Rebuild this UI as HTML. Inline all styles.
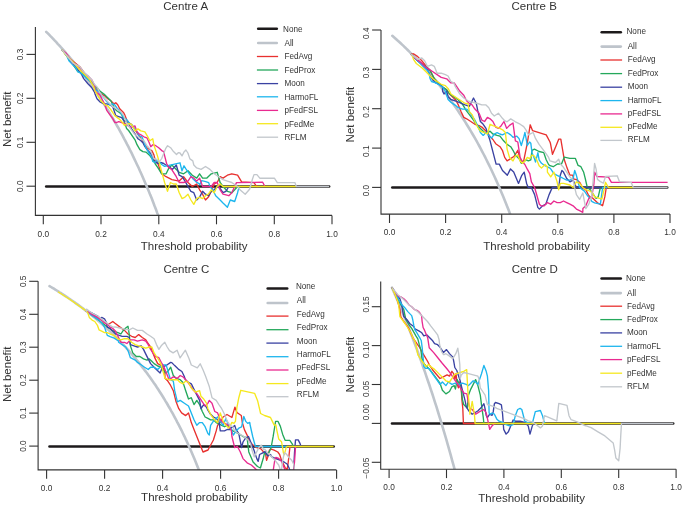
<!DOCTYPE html>
<html><head><meta charset="utf-8"><style>
html,body{margin:0;padding:0;background:#fff;width:685px;height:506px;overflow:hidden}
svg{display:block;will-change:transform}
text{font-family:"Liberation Sans",sans-serif;fill:#333333}
.tk{font-size:8.3px}
.lb{font-size:11.5px}
.lg{font-size:8.15px}
</style></head><body>
<svg width="685" height="506" viewBox="0 0 685 506">
<rect width="685" height="506" fill="#fff"/>
<clipPath id="cA"><rect x="35.4" y="24.1" width="300.6" height="191.3"/></clipPath>
<line x1="46.2" y1="186.5" x2="329.1" y2="186.5" stroke="#1d1a1b" stroke-width="2.6" stroke-linecap="round"/>
<g clip-path="url(#cA)"><polyline points="46.2,31.8 47.6,33.2 49.1,34.7 50.5,36.2 52,37.7 53.4,39.2 54.8,40.7 56.3,42.2 57.7,43.8 59.2,45.3 60.6,46.9 62.1,48.5 63.5,50.2 65,51.8 66.4,53.5 67.8,55.1 69.3,56.8 70.7,58.5 72.2,60.3 73.6,62 75.1,63.8 76.5,65.6 77.9,67.4 79.4,69.2 80.8,71.1 82.3,72.9 83.7,74.8 85.2,76.8 86.6,78.7 88,80.7 89.5,82.7 90.9,84.7 92.4,86.7 93.8,88.8 95.3,90.8 96.7,92.9 98.2,95.1 99.6,97.2 101,99.4 102.5,101.7 103.9,103.9 105.4,106.2 106.8,108.5 108.3,110.8 109.7,113.2 111.1,115.6 112.6,118 114,120.5 115.5,122.9 116.9,125.5 118.4,128 119.8,130.6 121.2,133.2 122.7,135.9 124.1,138.6 125.6,141.3 127,144.1 128.5,146.9 129.9,149.8 131.4,152.7 132.8,155.6 134.2,158.6 135.7,161.7 137.1,164.7 138.6,167.8 140,171 141.5,174.2 142.9,177.5 144.3,180.8 145.8,184.2 147.2,187.6 148.7,191 150.1,194.6 151.6,198.1 153,201.8 154.4,205.5 155.9,209.2 157.3,213.1 158.8,217 160.2,220.9" fill="none" stroke="#bec4cb" stroke-width="2.6" stroke-linecap="round"/>
<polyline points="62,49.7 69.9,58.8 79.8,66.7 82.7,70.7 87.7,77.6 91.6,82.5 95.6,88.5 100.9,93.9 104.9,95.9 107.8,98.8 110.8,100.8 113.8,103.8 115.8,102.8 117.7,104.8 119.7,108.7 121.7,110.7 123.7,112.7 124.6,114.6 126.6,119.6 128.6,122.5 131.6,124.5 137,132.8 139.9,136.8 141.9,139.8 144.9,144.7 146.9,147.7 149.8,149.6 151.8,150.6 153.8,154.6 154.8,158.5 156.7,161.5 158.7,165.5 159.7,169.4 161.7,173.8 166.1,176.7 169,178.1 171.9,179.6 179.2,181.1 183.6,176.7 188,182.5 192.3,186.5 196.7,184 199.6,189.8 202.6,194.2 205.5,200 208.4,197.1 211.3,191.3 214.2,184 217.2,182.5 220.1,176.7 223,178.1 227.4,175.2 231.8,173.8 237.6,175.2 241.6,181.9 254,182.6 256.6,186.5 258.4,186.5" fill="none" stroke="#e8312f" stroke-width="1.35" stroke-linejoin="round"/>
<polyline points="62,49.7 75.8,68.7 77.8,71.7 80.8,72.7 83.7,74.6 88.7,79.6 96.6,87.5 100.9,91.9 104.9,94.9 108.8,98.8 110.8,100.8 112.8,104.8 114.8,108.7 116.7,110.7 119.7,112.7 121.7,114.6 124.6,122.5 126.6,128.5 128.6,130.5 135,139.8 137,144.7 139.9,149.6 142.9,151.6 145.9,152.1 149.8,155.6 152.8,159.5 155.3,164 157.7,167.4 161.7,173.8 166.1,173.8 169,167.9 171.9,165 174.8,167.9 179.2,172.3 183.6,173.8 188,170.8 192.3,175.2 196.7,178.1 199.6,173.8 202.6,178.1 206.9,178.1 211.3,173.8 217.2,172.3 220.1,182.5 223,186.5 227.4,191.3 231.8,192.7 234.7,189.8 237.6,186.5 240.5,186.5" fill="none" stroke="#24a85b" stroke-width="1.35" stroke-linejoin="round"/>
<polyline points="62,49.7 81.7,74.6 83.7,78.6 87.7,83.5 91.6,87.5 94.6,92.4 95,93.9 97,98.8 99.9,101.8 103.9,103.8 106.9,103.8 109.8,104.8 112.8,106.7 114.8,112.7 115.8,115.6 118.7,116.6 121.7,117.6 123.7,120.6 126.6,121.6 128.6,123.5 130.6,127.5 135,133.8 138,138.8 140.9,140.8 142.9,142.7 144.9,146.7 147.8,150.6 150.8,153.6 153.8,159.5 155.8,162.5 158.7,163.5 160.7,162.5 163.7,163.5 166.6,165.5 169.6,167.4 172.5,169.4 176.3,165 179.2,175.2 182.1,176.7 185,181.1 188,186.5 190.9,191.3 193.8,192.7 196.7,200 199.6,197.1 202.6,191.3 205.5,194.2 208.4,195.7 211.3,191.3 214.2,189.8 217.2,186.5 220.1,188.4 223,192.7 225.9,191.3 228.8,186.5 231,186.5" fill="none" stroke="#3a42a2" stroke-width="1.35" stroke-linejoin="round"/>
<polyline points="62,49.7 66.9,55.9 68.9,60.8 72.8,64.8 75.8,67.7 77.8,71.7 81.7,73.7 85.7,77.6 89.6,80.6 92.6,83.5 96,89.9 99,91.9 100.9,94.9 103.9,97.8 106.9,101.8 109.8,104.8 112.8,103.8 114.8,104.8 116.7,107.7 118.7,109.7 120.7,112.7 123.7,117.6 126.6,119.6 129.6,123.5 131.6,124.5 137,131.9 139,135.8 141.9,136.8 143.9,141.7 145.9,147.7 148.8,152.6 151.8,157.5 152.8,161.5 154.8,162.5 156.7,160.5 159.7,162.5 161.7,164.5 164.6,166.4 180,162.8 182,170.8 184,165.8 185.9,168.8 189.9,174.7 192.8,178.7 195.8,181.6 198.8,183.6 199.8,184.6 201.7,180.6 205.7,181.6 208.7,182.6 209.9,186.5 212.8,189.8 215.7,195.7 220.1,200 223,203 227.4,207.3 230.3,200 234.7,201.5 237.6,192.7 239.1,186.5 239.8,186.5" fill="none" stroke="#1db6ee" stroke-width="1.35" stroke-linejoin="round"/>
<polyline points="62,49.7 65.9,52.9 72.8,63 79.8,67.7 83.7,72.7 88.7,76.6 91.6,79.6 94.6,85.5 95,90.9 97,92.9 99.9,94.9 102.9,100.8 104.9,104.8 106.9,110.7 109.8,114.6 112.8,118.6 114.8,122.5 116.7,122.5 118.7,121.6 121.7,122.5 124.6,123.5 127.6,125.5 130.6,127.5 135,125.9 137,131.9 139,133.8 140.9,134.8 143.9,136.8 146.9,137.8 148.8,141.7 150.8,146.7 152.8,144.7 155.8,145.7 158.7,147.7 161.7,150.6 163.7,151.6 164.6,155.6 166.6,163.5 168.6,167.4 171.6,169.4 176.3,176.7 179.2,182.5 183.6,182.5 188,181.1 190.9,176.7 193.8,178.1 196.7,181.1 199.6,178.1 202.6,186.5 208.4,186.5 211.3,186.5 214.2,182.5 217.2,182.5 220.1,189.8 223,194.2 228.8,195.7 231.8,192.7 234.7,186.5 236.5,182.6 262.7,182.2 264.9,186.5" fill="none" stroke="#e92a90" stroke-width="1.35" stroke-linejoin="round"/>
<polyline points="62,49.7 64.9,53.9 72.8,61.8 79.8,69.7 84.7,74.6 89.6,79.6 93.6,86.5 95,90.9 98,95.9 100.9,100.8 104.9,104.8 107.8,105.8 110.8,109.7 112.8,112.7 114.8,115.6 118.7,118.6 121.7,121.6 124.6,125.5 127.6,123.5 131.6,124.5 135,130.9 138,128.9 140.9,130.9 144.9,131.9 147.8,136.8 149.8,140.8 152.8,138.8 153.8,144.7 155.8,150.6 157.7,156.6 164.6,182.5 167.5,191.3 170.4,182.5 173.4,184 176.3,184 179.2,192.7 182.1,198.6 185,197.1 188,194.2 190.9,200 193.8,204.4 196.7,198.6 199.6,197.1 202.6,198.6 205.5,195.7 208.4,194.2 211.3,189.8 214.2,192.7 217.2,186.5 220.1,184 223,186.5 235,186.5 296.3,186.5" fill="none" stroke="#f5e81f" stroke-width="1.35" stroke-linejoin="round"/>
<polyline points="62,49.7 72.8,62.8 79.8,66.7 82.7,70.7 85.7,73.7 91.6,79.6 94.6,84.5 97.5,87.5 99.9,92.9 103.9,97.8 107.8,101.8 112.8,106.7 117.7,109.7 120.7,111.7 123.7,115.6 125.6,120.6 127.6,124.5 135,134.8 138,136.8 140.9,138.8 143.9,140.8 146.9,145.7 149.8,148.7 151.8,153.6 153.8,158.5 156.7,159.5 159.7,161.5 161.7,158.5 163.7,153.6 165.6,148.7 167.6,145.7 170.6,147.7 173.5,151.6 176.5,154.6 178.5,152.6 180,153 182,155.9 184,152 185.9,150 187.9,153 189.9,158.9 192.8,160.9 193.8,165 196.7,167.9 201.1,169.4 205.5,166.5 209.9,169.4 214.2,173.8 218.6,176.7 223,179.6 227.4,181.1 231.8,182.5 237.6,186.5 239.4,189.2 245.2,194.3 249.6,189.2 252.5,179 254,174.6 256.9,174.6 259.8,178.2 274.4,178.2 277.3,182.6 294.9,182.6 296.3,186.5 329.2,186.5" fill="none" stroke="#c2c7cc" stroke-width="1.35" stroke-linejoin="round"/>
</g>
<path d="M35.4,27.1V215.4H332.0" fill="none" stroke="#333333" stroke-width="1.1"/>
<line x1="43.3" y1="215.4" x2="43.3" y2="224.3" stroke="#333333" stroke-width="1.1"/>
<text x="43.3" y="236.6" class="tk" text-anchor="middle">0.0</text>
<line x1="101" y1="215.4" x2="101" y2="224.3" stroke="#333333" stroke-width="1.1"/>
<text x="101" y="236.6" class="tk" text-anchor="middle">0.2</text>
<line x1="158.8" y1="215.4" x2="158.8" y2="224.3" stroke="#333333" stroke-width="1.1"/>
<text x="158.8" y="236.6" class="tk" text-anchor="middle">0.4</text>
<line x1="216.5" y1="215.4" x2="216.5" y2="224.3" stroke="#333333" stroke-width="1.1"/>
<text x="216.5" y="236.6" class="tk" text-anchor="middle">0.6</text>
<line x1="274.3" y1="215.4" x2="274.3" y2="224.3" stroke="#333333" stroke-width="1.1"/>
<text x="274.3" y="236.6" class="tk" text-anchor="middle">0.8</text>
<line x1="332" y1="215.4" x2="332" y2="224.3" stroke="#333333" stroke-width="1.1"/>
<text x="332" y="236.6" class="tk" text-anchor="middle">1.0</text>
<line x1="26.5" y1="186.2" x2="35.4" y2="186.2" stroke="#333333" stroke-width="1.1"/>
<text transform="translate(23.2,186.2) rotate(-90)" class="tk" text-anchor="middle">0.0</text>
<line x1="26.5" y1="142.3" x2="35.4" y2="142.3" stroke="#333333" stroke-width="1.1"/>
<text transform="translate(23.2,142.3) rotate(-90)" class="tk" text-anchor="middle">0.1</text>
<line x1="26.5" y1="98.3" x2="35.4" y2="98.3" stroke="#333333" stroke-width="1.1"/>
<text transform="translate(23.2,98.3) rotate(-90)" class="tk" text-anchor="middle">0.2</text>
<line x1="26.5" y1="54.4" x2="35.4" y2="54.4" stroke="#333333" stroke-width="1.1"/>
<text transform="translate(23.2,54.4) rotate(-90)" class="tk" text-anchor="middle">0.3</text>
<text x="185.7" y="10.0" class="lb" text-anchor="middle">Centre A</text>
<text x="194.2" y="249.7" class="lb" text-anchor="middle">Threshold probability</text>
<text transform="translate(10.8,119.3) rotate(-90)" class="lb" text-anchor="middle">Net benefit</text>
<line x1="258.2" y1="28.8" x2="276.8" y2="28.8" stroke="#1d1a1b" stroke-width="2.6" stroke-linecap="round"/>
<text x="283.1" y="31.6" class="lg">None</text>
<line x1="258.2" y1="43.0" x2="276.8" y2="43.0" stroke="#bec4cb" stroke-width="2.6" stroke-linecap="round"/>
<text x="284.5" y="45.8" class="lg">All</text>
<line x1="256.9" y1="56.5" x2="278.1" y2="56.5" stroke="#e8312f" stroke-width="1.3" stroke-linecap="butt"/>
<text x="284.5" y="59.2" class="lg">FedAvg</text>
<line x1="256.9" y1="70.0" x2="278.1" y2="70.0" stroke="#24a85b" stroke-width="1.3" stroke-linecap="butt"/>
<text x="284.5" y="72.8" class="lg">FedProx</text>
<line x1="256.9" y1="83.6" x2="278.1" y2="83.6" stroke="#3a42a2" stroke-width="1.3" stroke-linecap="butt"/>
<text x="284.5" y="86.3" class="lg">Moon</text>
<line x1="256.9" y1="96.8" x2="278.1" y2="96.8" stroke="#1db6ee" stroke-width="1.3" stroke-linecap="butt"/>
<text x="284.5" y="99.5" class="lg">HarmoFL</text>
<line x1="256.9" y1="110.4" x2="278.1" y2="110.4" stroke="#e92a90" stroke-width="1.3" stroke-linecap="butt"/>
<text x="284.5" y="113.2" class="lg">pFedFSL</text>
<line x1="256.9" y1="123.7" x2="278.1" y2="123.7" stroke="#f5e81f" stroke-width="1.3" stroke-linecap="butt"/>
<text x="284.5" y="126.5" class="lg">pFedMe</text>
<line x1="256.9" y1="137.2" x2="278.1" y2="137.2" stroke="#c2c7cc" stroke-width="1.3" stroke-linecap="butt"/>
<text x="284.5" y="139.9" class="lg">RFLM</text>
<clipPath id="cB"><rect x="381.0" y="27.0" width="293.0" height="187.1"/></clipPath>
<line x1="392.3" y1="187.5" x2="667.2" y2="187.5" stroke="#1d1a1b" stroke-width="2.6" stroke-linecap="round"/>
<g clip-path="url(#cB)"><polyline points="392.3,35.8 393.7,37 395.1,38.2 396.5,39.5 397.9,40.8 399.3,42 400.7,43.3 402.1,44.6 403.5,45.9 404.9,47.3 406.3,48.6 407.7,50 409.1,51.4 410.5,52.8 411.9,54.2 413.3,55.6 414.7,57 416.1,58.5 417.6,59.9 419,61.4 420.4,62.9 421.8,64.5 423.2,66 424.6,67.6 426,69.1 427.4,70.7 428.8,72.3 430.2,74 431.6,75.6 433,77.3 434.4,79 435.8,80.7 437.2,82.4 438.6,84.1 440,85.9 441.4,87.7 442.8,89.5 444.2,91.3 445.6,93.2 447,95.1 448.4,97 449.8,98.9 451.2,100.9 452.6,102.9 454,104.9 455.4,106.9 456.8,109 458.2,111 459.6,113.2 461,115.3 462.4,117.5 463.8,119.7 465.2,121.9 466.6,124.2 468,126.5 469.4,128.8 470.8,131.1 472.2,133.5 473.7,136 475.1,138.4 476.5,140.9 477.9,143.5 479.3,146 480.7,148.6 482.1,151.3 483.5,154 484.9,156.7 486.3,159.5 487.7,162.3 489.1,165.1 490.5,168 491.9,171 493.3,174 494.7,177 496.1,180.1 497.5,183.2 498.9,186.4 500.3,189.7 501.7,193 503.1,196.3 504.5,199.7 505.9,203.2 507.3,206.7 508.7,210.3 510.1,214 511.5,217.7 512.9,221.5" fill="none" stroke="#bec4cb" stroke-width="2.6" stroke-linecap="round"/>
<polyline points="411,54.2 413.5,53.8 417.7,56.6 421.8,60.8 424.6,64.2 427.4,67.7 430.1,70.4 431.5,73.2 434.3,78.8 438.4,82.9 442.6,87.1 446.7,89.8 449.5,94 452.3,96.7 455.1,99.5 455.5,99.4 458.3,104.9 461.1,111.8 463.8,117.4 466.6,118.8 470.8,121.5 474.9,124.3 479.1,125.7 481.8,127.1 484.6,129.8 487.4,132.6 490.1,136.7 492.9,139.5 495.7,143.7 500,146.7 502.4,150.3 504.7,157.4 507.1,160.9 510.7,158.6 514.2,156.2 517.8,150.3 520.7,162.1 523.7,160.9 527.3,143.2 530.2,124.8 532.6,130.7 546.2,134.9 550,142 550.4,143.2 552.5,154.3 556,146 558.8,139.1 560.8,139.1 562.9,151.5 564.3,159.8 567.1,168.1 569.8,175.1 572.6,175.1 574,179.2 576.5,179.5 580,182.8 583,188.3 586,190 588.5,195.3 588.8,195.5 590.2,196.9 593.1,198.4 597.5,202.8 602.6,205.7 604.8,196.9 606.3,187.5 607.7,187.5 610.7,187.5" fill="none" stroke="#e8312f" stroke-width="1.35" stroke-linejoin="round"/>
<polyline points="411,54.2 417.7,60.8 423.2,64.9 427.4,67.7 430.1,70.4 431.5,73.2 434.3,78.8 438.4,82.9 442.6,87.1 446.7,89.8 449.5,94 453.7,96.7 457.8,99.5 462,103.7 464.7,107.8 465.2,109.1 469.4,114.6 473.5,120.1 476.3,124.3 480.4,128.4 484.6,132.6 487.4,132.6 490.1,131.2 492.9,134 497.1,135.4 500,136.1 503.6,140.8 507.1,144.4 510.7,146.7 513,150.3 515.4,155 517.8,157.4 520.1,159.8 521.3,163.3 523.7,162.1 526.1,159.8 528.4,160.9 530.8,159.8 532,150.3 534.4,149.1 539.1,151.5 543.8,152.7 546.2,159.8 548.6,164.5 550,165.7 553.2,166.7 557.4,164 561.5,164 564.3,157.1 569.8,158.4 575.4,158.4 578.1,165.4 580.9,166.7 583.7,172.3 585.1,177.8 587.3,187.5 590.2,189.6 593.1,194 596.1,198.4 598.2,196.9 600.4,187.5 601.9,187.5" fill="none" stroke="#24a85b" stroke-width="1.35" stroke-linejoin="round"/>
<polyline points="411,54.2 417.7,60.8 423.2,64.9 427.4,69.1 430.1,76 432.9,80.1 435.7,82.9 439.8,84.3 442.6,87.1 442.6,91.2 444,94 446.7,91.2 448.1,96.7 450.9,99.5 455.1,100.9 459.2,102.3 462,103.7 465.2,104.9 469.4,106.3 470.8,103.5 473.5,98 476.3,103.5 477.7,110.4 480.4,121.5 483.2,124.3 486,128.4 487.4,132.6 488.8,136.7 490.1,140.9 491.5,146.4 496.1,164.1 499.3,164.1 502.5,170.5 507.3,175.3 510.5,168.9 513.7,172.1 518.5,183.4 521.8,175.3 524.2,172.1 526.6,183.4 528.2,187.5 531.4,187.5 534.6,194.6 537.8,207.4 539.4,209.1 542.6,205.8 545.8,204.2 549.1,194.6 552.3,187.5 555.5,187.5 558.7,187.5 560.3,175.3 561.9,170.5 563.5,172.1 566.7,178.5 569.9,181.8 573.1,180.1 576.4,187.5 584.4,187.5 601.9,187.5" fill="none" stroke="#3a42a2" stroke-width="1.35" stroke-linejoin="round"/>
<polyline points="411,54.2 417.7,60.8 423.2,66.3 428.8,71.8 430.1,78.8 431.5,81.5 435.7,82.9 438.4,84.3 442.6,87.1 445.4,91.2 446.7,95.4 448.1,99.5 450.9,102.3 455.1,105.1 458.3,107.7 462.5,109.1 466.6,109.1 469.4,111.8 472.1,116 474.9,120.1 477.7,125.7 480.4,132.6 483.2,135.4 486,132.6 488.8,135.4 491.5,138.1 494.3,134 497.1,132.6 499.8,134 502.4,134.9 507.1,132.5 510.7,134.9 513,137.3 516.6,136.1 519,138.4 521.3,145.5 523.7,137.3 524.9,132.5 526.1,138.4 527.3,145.5 529.6,142 530.8,143.2 532,152.7 534.4,158.6 535.5,162.1 536.7,157.4 537.9,152.7 539.1,159.8 541.5,163.3 545,165.7 547.4,166.9 550,168.1 550.7,168.9 553.9,173.7 557.1,175.3 560.3,176.9 563.5,178.5 566.7,180.1 569.9,180.1 573.1,178.5 574.7,170.5 576.4,175.3 579.6,187.5 584.4,191.1 587.3,195.5 590.2,198.4 591.7,201.3 594.6,202.8 600.4,204.2 602.6,187.5 603.4,187.5 607.7,187.5" fill="none" stroke="#1db6ee" stroke-width="1.35" stroke-linejoin="round"/>
<polyline points="411,54.2 414.9,58 420.4,62.1 424.6,66.3 428.8,69.1 432.9,71.8 437.1,74.6 441.2,77.4 446.7,78.8 450.9,82.9 451.4,82.8 454.2,82.8 456.9,86.9 459.7,91.1 463.8,95.2 466.6,100.8 469.4,103.5 472.1,104.9 474.9,109.1 479.1,113.2 481.8,120.1 484.6,121.5 487.4,117.4 490.1,118.8 492.9,121.5 495.7,127.1 498.4,128.4 501.2,125.7 504,121.5 506.7,128.4 509.5,125.4 513,123 515.4,140.8 517.8,142 520.1,157.4 522.5,162.1 524.9,164.5 527.3,169.2 529.8,173.7 531.4,181.8 534.6,187.5 536.2,193 539.4,204.2 541,205.8 544.2,205.8 547.4,202.6 550.7,204.2 553.9,201 557.1,202.6 560.3,202.6 563.5,201 566.7,202.6 569.9,204.2 573.1,205.8 576.4,209.1 579.6,210.7 582.8,212.3 582.9,208.6 585.8,205.7 588.8,198.4 591.7,196.9 593.9,183.8 594.6,172.1 596.8,176.5 608.5,177.2 611.4,182.3 667.6,182.3" fill="none" stroke="#e92a90" stroke-width="1.35" stroke-linejoin="round"/>
<polyline points="411,54.2 412.1,55.2 413.5,59.4 416.3,63.5 421.8,67.7 426,71.8 430.1,76 432.9,78.8 437.1,81.5 441.2,84.3 445.4,85.7 448.1,88.4 450.9,94 452.8,95.2 456.9,98 461.1,100.8 465.2,103.5 468,103.5 469.4,111.8 472.1,114.6 474.9,121.5 477.7,127.1 480.4,131.2 484.6,132.6 487.4,134 490.1,124.3 492.9,125.7 497.1,127.1 499.8,128.4 502.6,129.8 505.4,132.6 505.9,137.3 507.1,149.1 509.5,157.4 513,160.9 515.4,156.2 517.8,155 520.1,160.9 522.5,163.3 524.9,160.9 527.3,157.4 529.6,158.6 532,155 534.4,156.2 536.7,159.8 539.1,165.7 541.5,168.1 545,164.5 547.4,166.9 547.4,172.1 550.7,176.9 553.9,172.1 557.1,181.8 558.7,189.8 560.3,183.4 563.5,183.4 569.9,185 573.1,187.5 576.4,181.8 579.6,183.4 582.8,187.5 582.9,187.5 585.8,189.6 590.2,191.1 593.1,194 594.6,196.9 601.9,199.1 604.1,189.6 605.5,182.3 608.5,187.5 633.3,187.5" fill="none" stroke="#f5e81f" stroke-width="1.35" stroke-linejoin="round"/>
<polyline points="411,54.2 417.7,59.4 421.8,58 424.6,60.8 427.4,66.3 431.5,64.9 434.3,66.3 437.1,73.2 441.2,73.2 445.4,74.6 448.1,76 450.9,81.5 453.7,82.9 455.5,86.9 459.7,93.8 463.8,98 468,100.8 472.1,102.1 477.7,103.5 481.8,104.9 486,104.9 488.8,107.7 491.5,113.2 494.3,116 498.4,113.2 502.4,118.3 504.7,120.7 507.1,121.8 510.7,118.9 515.4,121.8 520.1,124.2 523.7,126.6 526.1,130.1 528.4,134.9 530.8,133.7 533.2,132.5 535.5,138.4 539.1,144.4 542.7,149.1 546.2,153.8 548.6,157.4 550,160.9 555.5,162.5 558.7,159.3 560.3,164.1 563.5,167.3 566.7,172.1 569.9,176.9 573.1,180.1 574.7,187.5 576.4,194.6 579.6,199.4 582.8,193 585.8,208.6 588.8,204.2 591.7,195.5 593.1,180.9 594.6,163.4 596.1,169.2 597.5,179.4 600.4,181.6 603.4,183.1 605.5,176.5 617.2,175.8 619.4,181.6 631.1,182.3 633.3,187.5 667.6,187.5" fill="none" stroke="#c2c7cc" stroke-width="1.35" stroke-linejoin="round"/>
</g>
<path d="M381.0,30.0V214.1H670.0" fill="none" stroke="#333333" stroke-width="1.1"/>
<line x1="389.5" y1="214.1" x2="389.5" y2="223" stroke="#333333" stroke-width="1.1"/>
<text x="389.5" y="235.3" class="tk" text-anchor="middle">0.0</text>
<line x1="445.6" y1="214.1" x2="445.6" y2="223" stroke="#333333" stroke-width="1.1"/>
<text x="445.6" y="235.3" class="tk" text-anchor="middle">0.2</text>
<line x1="501.7" y1="214.1" x2="501.7" y2="223" stroke="#333333" stroke-width="1.1"/>
<text x="501.7" y="235.3" class="tk" text-anchor="middle">0.4</text>
<line x1="557.8" y1="214.1" x2="557.8" y2="223" stroke="#333333" stroke-width="1.1"/>
<text x="557.8" y="235.3" class="tk" text-anchor="middle">0.6</text>
<line x1="613.9" y1="214.1" x2="613.9" y2="223" stroke="#333333" stroke-width="1.1"/>
<text x="613.9" y="235.3" class="tk" text-anchor="middle">0.8</text>
<line x1="670" y1="214.1" x2="670" y2="223" stroke="#333333" stroke-width="1.1"/>
<text x="670" y="235.3" class="tk" text-anchor="middle">1.0</text>
<line x1="372.1" y1="187.4" x2="381.0" y2="187.4" stroke="#333333" stroke-width="1.1"/>
<text transform="translate(368.8,190.6) rotate(-90)" class="tk" text-anchor="middle">0.0</text>
<line x1="372.1" y1="148.1" x2="381.0" y2="148.1" stroke="#333333" stroke-width="1.1"/>
<text transform="translate(368.8,151.2) rotate(-90)" class="tk" text-anchor="middle">0.1</text>
<line x1="372.1" y1="108.7" x2="381.0" y2="108.7" stroke="#333333" stroke-width="1.1"/>
<text transform="translate(368.8,111.9) rotate(-90)" class="tk" text-anchor="middle">0.2</text>
<line x1="372.1" y1="69.4" x2="381.0" y2="69.4" stroke="#333333" stroke-width="1.1"/>
<text transform="translate(368.8,72.6) rotate(-90)" class="tk" text-anchor="middle">0.3</text>
<line x1="372.1" y1="30" x2="381.0" y2="30" stroke="#333333" stroke-width="1.1"/>
<text transform="translate(368.8,33.2) rotate(-90)" class="tk" text-anchor="middle">0.4</text>
<text x="534.2" y="10.0" class="lb" text-anchor="middle">Centre B</text>
<text x="536.7" y="249.9" class="lb" text-anchor="middle">Threshold probability</text>
<text transform="translate(353.8,114.6) rotate(-90)" class="lb" text-anchor="middle">Net benefit</text>
<line x1="601.7" y1="32.2" x2="620.8" y2="32.2" stroke="#1d1a1b" stroke-width="2.6" stroke-linecap="round"/>
<text x="626.5" y="34.1" class="lg">None</text>
<line x1="601.7" y1="46.6" x2="620.8" y2="46.6" stroke="#bec4cb" stroke-width="2.6" stroke-linecap="round"/>
<text x="627.7" y="48.5" class="lg">All</text>
<line x1="600.4" y1="60.0" x2="622.1" y2="60.0" stroke="#e8312f" stroke-width="1.3" stroke-linecap="butt"/>
<text x="627.7" y="61.9" class="lg">FedAvg</text>
<line x1="600.4" y1="73.6" x2="622.1" y2="73.6" stroke="#24a85b" stroke-width="1.3" stroke-linecap="butt"/>
<text x="627.7" y="75.5" class="lg">FedProx</text>
<line x1="600.4" y1="87.2" x2="622.1" y2="87.2" stroke="#3a42a2" stroke-width="1.3" stroke-linecap="butt"/>
<text x="627.7" y="89.1" class="lg">Moon</text>
<line x1="600.4" y1="100.6" x2="622.1" y2="100.6" stroke="#1db6ee" stroke-width="1.3" stroke-linecap="butt"/>
<text x="627.7" y="102.5" class="lg">HarmoFL</text>
<line x1="600.4" y1="113.9" x2="622.1" y2="113.9" stroke="#e92a90" stroke-width="1.3" stroke-linecap="butt"/>
<text x="627.7" y="115.8" class="lg">pFedFSL</text>
<line x1="600.4" y1="127.3" x2="622.1" y2="127.3" stroke="#f5e81f" stroke-width="1.3" stroke-linecap="butt"/>
<text x="627.7" y="129.2" class="lg">pFedMe</text>
<line x1="600.4" y1="140.4" x2="622.1" y2="140.4" stroke="#c2c7cc" stroke-width="1.3" stroke-linecap="butt"/>
<text x="627.7" y="142.3" class="lg">RFLM</text>
<clipPath id="cC"><rect x="38.1" y="278.3" width="302.4" height="191.59999999999997"/></clipPath>
<line x1="49.5" y1="446.5" x2="333.7" y2="446.5" stroke="#1d1a1b" stroke-width="2.6" stroke-linecap="round"/>
<g clip-path="url(#cC)"><polyline points="49.5,286.1 51,287 52.4,287.8 53.9,288.7 55.3,289.6 56.8,290.5 58.2,291.4 59.6,292.3 61.1,293.2 62.5,294.2 64,295.1 65.5,296.1 66.9,297 68.3,298 69.8,299 71.2,300 72.7,301 74.2,302 75.6,303.1 77.1,304.1 78.5,305.1 80,306.2 81.4,307.3 82.9,308.4 84.3,309.5 85.8,310.6 87.2,311.7 88.7,312.9 90.1,314 91.6,315.2 93,316.4 94.5,317.6 95.9,318.8 97.4,320 98.8,321.3 100.3,322.5 101.7,323.8 103.2,325.1 104.6,326.4 106.1,327.7 107.5,329 109,330.4 110.4,331.8 111.9,333.1 113.3,334.5 114.8,336 116.2,337.4 117.7,338.9 119.1,340.4 120.6,341.9 122,343.4 123.5,344.9 124.9,346.5 126.4,348.1 127.8,349.7 129.3,351.3 130.7,353 132.2,354.7 133.6,356.4 135.1,358.1 136.5,359.8 138,361.6 139.4,363.4 140.9,365.2 142.3,367.1 143.8,369 145.2,370.9 146.7,372.8 148.1,374.8 149.6,376.8 151,378.8 152.5,380.9 153.9,383 155.4,385.1 156.8,387.3 158.3,389.5 159.7,391.7 161.2,394 162.6,396.3 164.1,398.7 165.5,401.1 167,403.5 168.4,406 169.9,408.5 171.3,411.1 172.8,413.7 174.2,416.3 175.7,419 177.1,421.8 178.6,424.6 180,427.4 181.5,430.3 182.9,433.3 184.4,436.3 185.8,439.4 187.3,442.5 188.7,445.7 190.2,449 191.6,452.3 193.1,455.7 194.5,459.1 196,462.7 197.4,466.3 198.9,470 200.3,473.7 201.8,477.6" fill="none" stroke="#bec4cb" stroke-width="2.6" stroke-linecap="round"/>
<polyline points="86,311.8 86.5,310.4 92.1,314.6 97.6,317.4 101.7,320.1 105.9,322.9 108.7,324.3 112.8,321.5 115,323.3 119.7,326.9 124.5,330.4 128,334 131.6,336.3 135.2,337.5 138.7,334.6 142.3,337.5 145.8,339.9 148.2,343.5 150.6,347 152.9,352.9 155.3,358.9 157.7,363.6 160.1,364.8 162.4,367.2 164.8,370.7 165,378.3 167.8,381.1 170.5,385.2 173.3,390.7 176.1,401.8 178.8,408.7 181.6,412.9 185.7,415.6 188.5,412.9 191.3,422.6 194,429.5 196.8,436.4 198.2,440 203,452 208,450 213.4,440 216.2,430.9 217.6,425.3 220.3,422.6 223.1,417 227,414.5 231.9,417.5 234.9,407.1 236.9,412.5 239.8,414.5 241.3,415.5 242.3,422.4 244.4,429.6 247.1,435.1 249.9,442 252.7,444.8 256.8,447.6 261,448.9 265.7,454.7 266.6,460.3 267.6,457.5 269.4,450.1 271.3,449.2 274.1,450.1 277.8,452 279.7,454.7 281.5,460.3 283.4,464 285.2,467.8 287.1,469.6 288,464 289,455.7 289.9,447.3 290.3,446.5" fill="none" stroke="#e8312f" stroke-width="1.35" stroke-linejoin="round"/>
<polyline points="86,311.8 86.5,310.4 93.4,316 100.4,321.5 105.9,325.7 111.4,329.8 115,331.6 118.6,332.8 120.9,334 123.3,330.4 125.7,328 128,326.3 129.2,334 130.4,345.8 132.8,352.9 136.3,356.5 139.9,356.5 143.5,358.9 147,360.1 149.4,358.9 151.8,361.2 154.1,363.6 157.7,366 161.2,367.2 163.6,370.7 166,373.1 168.4,370.7 170.7,367.2 173.3,375.5 176.1,378.3 180.2,379.7 183,382.4 185.7,390.7 188.5,399 191.3,397.7 194,404.6 196.8,400.4 199.6,404.6 202.3,411.5 205.1,417 207.9,418.4 210.6,419.8 213.4,419.8 216.2,422.6 218.9,423.9 221.7,425.3 224.5,426.7 227.2,425.3 230,428.1 232.8,430.9 238.8,433.7 243,436.5 247.1,437.9 248.8,451.9 253.1,462.1 257.5,466.5 260.4,468 263.4,457.7 264.8,451.9 266.3,454.8 269.2,451.9 270.4,449.2 271.3,446.5 273.2,436.2 275,425 275.6,421.3 277.9,421.3 280.3,426.1 282.7,434.4 285.1,440.3 289.8,440.3 292.2,443.9 293.4,446.5" fill="none" stroke="#24a85b" stroke-width="1.35" stroke-linejoin="round"/>
<polyline points="86,311.8 86.5,310.4 92.1,313.2 97.6,316 100.4,318.8 101.7,317.4 104.5,318.8 105.9,321.5 107.3,327.1 110.1,328.4 112.8,331.2 115.6,334 118.6,335.2 122.1,336.3 126.9,336.3 129.2,337.5 130.4,344.6 134,345.8 137.5,347 141.1,345.8 143.5,349.4 145.8,354.1 148.2,358.9 150.6,363.6 154.1,367.2 157.7,370.7 160.1,373.1 162.4,367.2 167.2,364.8 170.7,362.4 171.8,362.6 174.7,365.6 178.3,369.1 181.9,371.5 184.2,376.2 185.4,379.8 188.5,382.4 191.3,383.8 194,389.4 196.8,394.9 199.6,400.4 201,408.7 203.7,404.6 206.5,407.3 207.9,410.1 210.6,414.3 213.4,417 216.2,418.4 218.9,421.2 220.3,430.9 224.5,430.9 227.2,429.5 230,429.5 230.5,428.2 233.3,426.8 234.7,425.4 236.1,429.6 238.8,433.7 240.2,440.6 241.6,447.6 243,442 245.7,437.9 248.5,436.5 251.3,443.4 254,450.3 256.8,458.6 258.2,461.4 259.6,454.5 262.3,453.1 265.1,451.7 267.9,455.9 270.6,454.5 271.3,456.6 275.9,458.5 280.6,460.3 284.3,462.2 287.1,464 289,467.8 289.9,470.5 293.6,470.5 294.5,452.9 295.5,439.9 298.2,439.9 300.1,443.6 301,446.5" fill="none" stroke="#3a42a2" stroke-width="1.35" stroke-linejoin="round"/>
<polyline points="86,311.8 86.5,310.4 90.7,314.6 94.8,317.4 99,320.1 101.7,322.9 104.5,327.1 105.9,331.2 107.3,335.4 110.1,336.7 114.2,338.1 118.4,340.9 118.6,342.3 122.1,344.6 125.7,347 128,350.6 130.4,357.7 132.8,358.9 135.2,360.1 137.5,362.4 141.1,364.8 144.6,367.2 148.2,369.5 150.6,367.2 154.1,367.2 157.7,369.5 161.2,366 163.6,364.8 166,364.8 167.2,368.4 170.5,379.7 173.3,381.1 174.7,390.7 177.4,401.8 180.2,400.4 184.4,403.2 188.5,406 191.3,412.9 194,419.8 196.8,425.3 199.6,422.6 202.3,422.6 205.1,426.7 207.9,433.6 209.3,435 210.6,425.3 213.4,421.2 217.6,417 220.3,421.2 223.1,425.3 225.9,418.4 228.6,425.3 231.4,429.5 233.3,435.1 236.1,431 238.8,428.2 241.6,426.8 243.8,416.5 245.8,421.4 247.7,423.4 249.7,422.4 249.9,424 252.7,436.5 255.4,446.5 262,446.5 287.1,446.5" fill="none" stroke="#1db6ee" stroke-width="1.35" stroke-linejoin="round"/>
<polyline points="86,311.8 86.5,310.4 92.1,314.6 97.6,317.4 101.7,320.1 104.5,322.9 107.3,324.3 110.1,327.1 112.8,328.4 115.6,331.2 117.4,335.2 120.9,342.3 124.5,342.3 126.9,343.5 130.4,339.9 134,339.9 137.5,341.1 142.3,339.9 145.8,341.1 148.2,344.6 150.6,349.4 152.9,352.9 155.3,356.5 158.9,357.7 161.2,362.4 163.6,366 169.1,379.7 173.3,376.9 177.4,378.3 180.2,375.5 183,376.9 185.7,379.7 189.9,385.2 192.7,389.4 196.8,393.5 199.6,397.7 202.3,401.8 205.1,406 207.9,403.2 209.3,400.4 212,403.2 214.8,411.5 217.6,412.9 220.3,419.8 223.1,422.6 225.9,423.9 228.6,425.3 231.4,430.9 231.9,436.5 234.7,447.6 237.4,446.5 240.2,451.7 243,458.6 247.1,462.8 251.3,465 254.6,468 257.5,470.9 261.9,473.8 269.2,473.8 273.2,470.5 275,458.5 275.9,457.5 278.7,458.5 281.5,461.2 283.4,465.9 285.2,470.5 289.9,473.3 293.6,470.5 294.5,462.2 295.5,447.3 295.9,446.5" fill="none" stroke="#e92a90" stroke-width="1.35" stroke-linejoin="round"/>
<polyline points="58,291.7 70,299.5 86.5,311.1 87.9,313.2 89.3,317.4 92.1,320.1 94.8,321.5 97.6,325.7 99,329.8 101.7,331.2 104.5,332.6 107.3,332.6 110.1,334 114.2,335.4 117,338.1 117.4,338.7 120.9,339.9 124.5,338.7 128,338.7 131.6,342.3 135.2,344.6 138.7,345.8 142.3,347 145.8,348.2 149.4,347 151.8,347 154.1,352.9 156.5,356.5 158.9,360.1 161.2,364.8 165,378.3 169.1,379.7 173.3,379.7 177.4,379.7 180.2,382.4 183,383.8 185.7,381.1 188.5,382.4 191.3,388 195.4,392.1 199.6,390.7 201,396.3 203.7,399 206.5,403.2 207.9,408.7 210.6,414.3 213.4,418.4 216.2,421.2 217.6,422.6 220.3,412.9 223.1,421.2 225.9,425.3 228.6,428.1 230.9,424.4 231.9,422.4 233.9,423.4 235.4,421.4 236.9,407.6 238.8,397.7 240.8,390.3 254.6,393.3 257.6,400.7 260.6,413.5 264.5,415.5 270.5,417.5 272.4,421.4 274.1,425 275.9,425 276.9,430.6 278.7,438.9 281.5,441.7 282.4,446.5 283.4,452.9 284.3,454.7 286.2,447.3 287.1,446.5 333.5,446.5" fill="none" stroke="#f5e81f" stroke-width="1.35" stroke-linejoin="round"/>
<polyline points="86,311.8 86.5,309.1 92.1,313.2 97.6,316 103.1,320.1 108.7,324.3 112.8,327.1 115,326.9 119.7,328 124.5,329.2 129.2,329.8 132.8,328 137.5,330.4 142.3,330.4 147,334 150.6,336.3 154.1,338.7 156.5,344.6 158.9,349.4 161.2,345.8 164.8,342.3 167.2,347 169.5,350.6 173.1,352.9 177.1,350.2 180.1,357.9 185.4,350.2 189,358.5 191.3,365 197.3,367.9 200.2,363.8 203.2,370.3 205.6,376.2 209.3,386.6 212,397.7 216.2,400.4 218.9,404.6 221.7,408.7 224.5,414.3 227.2,421.2 230,425.3 232.8,426.7 234.7,431 238.8,433.7 242.4,435.6 245.9,437.9 248.3,440.3 250.7,443.9 251.9,449.8 254.2,456.9 255.4,454.5 259,447.4 261.3,445.1 263.7,449.8 264.8,449.2 267.6,452.9 271.3,456.6 275,460.3 278.7,465 280.6,470.5 281.5,470.5 282.4,462.2 284.3,452.9 286.2,453.8 289,457.5 291.7,460.3 293.6,464 294.5,469.6 295,472" fill="none" stroke="#c2c7cc" stroke-width="1.35" stroke-linejoin="round"/>
</g>
<path d="M38.1,281.3V469.9H336.5" fill="none" stroke="#333333" stroke-width="1.1"/>
<line x1="46.6" y1="469.9" x2="46.6" y2="478.8" stroke="#333333" stroke-width="1.1"/>
<text x="46.6" y="491.1" class="tk" text-anchor="middle">0.0</text>
<line x1="104.6" y1="469.9" x2="104.6" y2="478.8" stroke="#333333" stroke-width="1.1"/>
<text x="104.6" y="491.1" class="tk" text-anchor="middle">0.2</text>
<line x1="162.6" y1="469.9" x2="162.6" y2="478.8" stroke="#333333" stroke-width="1.1"/>
<text x="162.6" y="491.1" class="tk" text-anchor="middle">0.4</text>
<line x1="220.6" y1="469.9" x2="220.6" y2="478.8" stroke="#333333" stroke-width="1.1"/>
<text x="220.6" y="491.1" class="tk" text-anchor="middle">0.6</text>
<line x1="278.6" y1="469.9" x2="278.6" y2="478.8" stroke="#333333" stroke-width="1.1"/>
<text x="278.6" y="491.1" class="tk" text-anchor="middle">0.8</text>
<line x1="336.6" y1="469.9" x2="336.6" y2="478.8" stroke="#333333" stroke-width="1.1"/>
<text x="336.6" y="491.1" class="tk" text-anchor="middle">1.0</text>
<line x1="29.2" y1="446.1" x2="38.1" y2="446.1" stroke="#333333" stroke-width="1.1"/>
<text transform="translate(25.9,446.1) rotate(-90)" class="tk" text-anchor="middle">0.0</text>
<line x1="29.2" y1="413.1" x2="38.1" y2="413.1" stroke="#333333" stroke-width="1.1"/>
<text transform="translate(25.9,413.1) rotate(-90)" class="tk" text-anchor="middle">0.1</text>
<line x1="29.2" y1="380.2" x2="38.1" y2="380.2" stroke="#333333" stroke-width="1.1"/>
<text transform="translate(25.9,380.2) rotate(-90)" class="tk" text-anchor="middle">0.2</text>
<line x1="29.2" y1="347.2" x2="38.1" y2="347.2" stroke="#333333" stroke-width="1.1"/>
<text transform="translate(25.9,347.2) rotate(-90)" class="tk" text-anchor="middle">0.3</text>
<line x1="29.2" y1="314.3" x2="38.1" y2="314.3" stroke="#333333" stroke-width="1.1"/>
<text transform="translate(25.9,314.3) rotate(-90)" class="tk" text-anchor="middle">0.4</text>
<line x1="29.2" y1="281.3" x2="38.1" y2="281.3" stroke="#333333" stroke-width="1.1"/>
<text transform="translate(25.9,281.3) rotate(-90)" class="tk" text-anchor="middle">0.5</text>
<text x="186.4" y="273.3" class="lb" text-anchor="middle">Centre C</text>
<text x="194.5" y="501.3" class="lb" text-anchor="middle">Threshold probability</text>
<text transform="translate(10.6,374.3) rotate(-90)" class="lb" text-anchor="middle">Net benefit</text>
<line x1="267.7" y1="288.5" x2="287.2" y2="288.5" stroke="#1d1a1b" stroke-width="2.6" stroke-linecap="round"/>
<text x="295.9" y="288.9" class="lg">None</text>
<line x1="267.7" y1="303.0" x2="287.2" y2="303.0" stroke="#bec4cb" stroke-width="2.6" stroke-linecap="round"/>
<text x="296.8" y="303.4" class="lg">All</text>
<line x1="266.4" y1="316.1" x2="288.5" y2="316.1" stroke="#e8312f" stroke-width="1.3" stroke-linecap="butt"/>
<text x="296.8" y="316.5" class="lg">FedAvg</text>
<line x1="266.4" y1="329.7" x2="288.5" y2="329.7" stroke="#24a85b" stroke-width="1.3" stroke-linecap="butt"/>
<text x="296.8" y="330.1" class="lg">FedProx</text>
<line x1="266.4" y1="343.1" x2="288.5" y2="343.1" stroke="#3a42a2" stroke-width="1.3" stroke-linecap="butt"/>
<text x="296.8" y="343.5" class="lg">Moon</text>
<line x1="266.4" y1="356.7" x2="288.5" y2="356.7" stroke="#1db6ee" stroke-width="1.3" stroke-linecap="butt"/>
<text x="296.8" y="357.1" class="lg">HarmoFL</text>
<line x1="266.4" y1="370.0" x2="288.5" y2="370.0" stroke="#e92a90" stroke-width="1.3" stroke-linecap="butt"/>
<text x="296.8" y="370.4" class="lg">pFedFSL</text>
<line x1="266.4" y1="383.6" x2="288.5" y2="383.6" stroke="#f5e81f" stroke-width="1.3" stroke-linecap="butt"/>
<text x="296.8" y="384" class="lg">pFedMe</text>
<line x1="266.4" y1="396.7" x2="288.5" y2="396.7" stroke="#c2c7cc" stroke-width="1.3" stroke-linecap="butt"/>
<text x="296.8" y="397.1" class="lg">RFLM</text>
<clipPath id="cD"><rect x="380.7" y="278.4" width="299.50000000000006" height="190.8"/></clipPath>
<line x1="392" y1="423.5" x2="673.2" y2="423.5" stroke="#1d1a1b" stroke-width="2.6" stroke-linecap="round"/>
<g clip-path="url(#cD)"><polyline points="392,287.7 393.4,290.9 394.8,294.2 396.3,297.6 397.7,300.9 399.1,304.3 400.6,307.8 402,311.2 403.5,314.7 404.9,318.3 406.3,321.8 407.8,325.5 409.2,329.1 410.6,332.8 412.1,336.6 413.5,340.3 414.9,344.1 416.4,348 417.8,351.9 419.2,355.9 420.7,359.8 422.1,363.9 423.5,368 425,372.1 426.4,376.3 427.8,380.5 429.3,384.8 430.7,389.1 432.2,393.5 433.6,397.9 435,402.4 436.5,406.9 437.9,411.5 439.3,416.1 440.8,420.8 442.2,425.6 443.6,430.4 445.1,435.3 446.5,440.2 447.9,445.2 449.4,450.3 450.8,455.4 452.2,460.6 453.7,465.9 455.1,471.2 456.5,476.6" fill="none" stroke="#bec4cb" stroke-width="2.6" stroke-linecap="round"/>
<polyline points="392,287.6 393.9,290.9 397.9,301.8 399.9,309.7 400.8,316.6 403.8,321.5 406.8,325.5 408.8,328.4 412.9,337.8 416.9,343.7 419.8,347.7 421.8,351.6 424.8,356.6 427.7,361.5 429.7,365.5 431.7,368.4 432.7,370 440,378.5 442.4,377.3 444.7,376.1 447.1,374.9 449.5,376.1 451.9,371.3 453.6,373.7 454.8,379.6 456,373.7 457.2,384.4 458.4,387.9 459.6,382 460.8,383.2 461.3,390.3 461.9,399.8 462.8,408.4 463.4,423.5 475,423.5" fill="none" stroke="#e8312f" stroke-width="1.35" stroke-linejoin="round"/>
<polyline points="392,287.6 392.9,288.9 397.9,298.8 400.8,304.7 403.8,309.7 404.8,314.6 405.8,319.5 408.8,324.5 411.7,328.4 415.9,335.8 417.8,338.8 419.3,344.7 420.8,349.6 421.8,357.5 422.8,361.5 424.8,364.5 427.7,367.4 429.7,369.4 440,383.2 442.4,390.3 445.9,393.9 449.5,391.5 451.9,386.8 454.2,385.6 455.4,389.1 457.2,379.6 459,383.2 460.8,385.6 462.5,399.8 463.7,404.5 467.3,408.1 468.5,395.1 470.8,389.1 473.2,384.4 475.6,379.6 477.9,385.6 480.3,395.1 481.5,404.9 483.3,417.7 483.9,423.5" fill="none" stroke="#24a85b" stroke-width="1.35" stroke-linejoin="round"/>
<polyline points="392,287.6 396.9,294.8 399.9,298.8 401.8,304.7 402.8,311.6 403.8,316.6 406.8,319.5 409.7,323.5 413.7,326.5 414.9,328.9 418.8,330.9 421.8,332.8 423.8,335.8 426.7,334.8 429.7,337.8 432.7,340.8 434.6,343.7 437.6,344.7 439.6,346.7 441.6,349.6 443.5,352.6 446.5,349.6 449.5,353.6 452.4,356.6 452.8,356.6 453.8,361.6 454.8,367.5 456.8,370.5 459,377.3 460.2,380.8 461.3,385.6 462.5,390.3 463.7,395.1 464.9,399.8 466.4,407.2 468.7,410.7 472.2,414.2 474.5,413 478,410.7 481.5,407.2 483.9,403.7 485,408.4 486.2,415.4 487.4,417.7 489.7,414.2 492,415.4 493.2,411.9 494.4,403.7 495.5,402.5 499.1,403.7 501.4,404.9 502.6,414.2 503.7,429.4 506.1,434.1 508.4,431.7 510.7,425.9 513.1,420 515.4,421.2 520.1,421.2 524.7,422.4 527.1,424.7 528.2,425.9 530,434.1 532.3,425.9 533.3,423.5 536,423.5" fill="none" stroke="#3a42a2" stroke-width="1.35" stroke-linejoin="round"/>
<polyline points="392,287.6 395.9,293.9 398.9,299.8 401.8,304.7 404.8,307.7 407.8,311.6 411.7,315.6 412.7,319.5 413.9,325.9 414.9,329.9 416.9,332.8 419.8,337.8 421.3,340.8 422.3,348.7 422.8,354.6 423.3,359.5 423.8,366.4 425.8,368.4 428.7,368.4 440,384.4 442.4,382 445.9,385.6 448.3,382 451.9,384.4 455.4,383.2 459,384.4 462.5,383.2 466.1,384.4 468.5,385.6 470.8,383.2 473.2,380.8 475.6,382 477.9,384.4 479.1,380.8 481.5,373.7 483.9,365.4 486.2,371.3 487.4,376.1 488.6,390.3 489.1,413 490.3,414.2 492,413 494.4,414.2 496.7,418.9 499.1,421.2 502.6,422.4 506.1,424.7 509.6,425.9 513.1,424.7 515.4,415.4 517.7,409.5 520.1,408.4 521.8,409.5 523.6,416.5 524.7,421.2 527.1,422.4 532.3,423.5 535.3,411.6 540.4,410.5 542.5,415.7 544.5,423.5 546,423.5" fill="none" stroke="#1db6ee" stroke-width="1.35" stroke-linejoin="round"/>
<polyline points="392,287.6 397.9,295.8 400.8,296.8 403.8,298.8 406.8,301.8 408.8,304.7 411.7,306.7 414.7,309.7 417.6,310.7 419.6,312.6 421.6,315.6 422.1,321.5 423.1,327.5 424.6,330.4 427.7,337.8 429.2,347.7 433.7,352.6 437.6,357.5 441.6,362.5 447.1,369 450.7,373.7 453,377.3 464,393.2 466.9,393.8 468.1,401.4 469.9,408.4 472.2,409.5 475.7,414.2 479.2,411.9 483.9,409.5 486.2,413 488.5,423.5 489.7,429.4 492,425.9 494.4,423.5 496,423.5" fill="none" stroke="#e92a90" stroke-width="1.35" stroke-linejoin="round"/>
<polyline points="392,287.6 394.9,293.9 397.9,301.8 398.9,306.7 399.9,316.6 402.8,320.5 405.8,324.5 410.9,332.8 412.9,337.8 414.9,340.8 415.9,344.7 417.8,354.6 420.8,359.5 423.8,363.5 425.8,366.4 428.7,364.5 431.7,367.4 434.6,369.4 440,374.9 442.4,377.3 445.9,380.8 449.5,382 451.9,378.5 454.2,374.9 456.6,373.7 460.2,372.5 463.7,371.3 466.7,369.6 467.3,380.8 467.9,391.5 468.7,399 469.9,414.2 471,408.4 472.2,401.4 473.4,408.4 474.5,415.4 475.1,423.5 621.5,423.5" fill="none" stroke="#f5e81f" stroke-width="1.35" stroke-linejoin="round"/>
<polyline points="392,287.6 397.9,294.8 402.8,298.8 407.8,303.7 412.7,307.7 417.6,311.6 422.6,316.6 427.5,321.5 430.7,325.9 434.6,330.9 437.6,334.8 439.1,339.8 439.6,344.7 441.6,351.6 443.5,354.6 444,354.6 445.9,353.7 448.9,355.6 452.8,358.6 455.8,353.7 457.8,348.2 458.8,354.6 459.8,364.5 460.2,378.5 461.3,374.9 463.7,372.5 468.5,373.7 473.2,374.9 477.9,376.1 479.1,379.6 480.3,387.9 482.7,391.5 485.1,395.1 486.2,399.8 487.4,404.5 491,405.7 494.5,406.9 496.7,408.4 506.1,411.9 515.4,415.4 524.7,418.9 528.2,420.8 532.3,421.8 540.4,427.9 542.5,425.9 544.5,415.7 556.8,420.8 558.8,403.4 567,405.4 569,415.7 571.1,419.7 577.2,421.8 585.4,425.9 585.5,425.6 591.1,427.7 598,431.8 604.9,435.9 613.2,442.9 614.6,449.8 615.9,458.1 618.7,460.8 620.1,448.4 620.8,434.6 621.5,423.5 673.2,423.5" fill="none" stroke="#c2c7cc" stroke-width="1.35" stroke-linejoin="round"/>
</g>
<path d="M380.7,281.4V469.2H676.2" fill="none" stroke="#333333" stroke-width="1.1"/>
<line x1="389.1" y1="469.2" x2="389.1" y2="478.1" stroke="#333333" stroke-width="1.1"/>
<text x="389.1" y="490.4" class="tk" text-anchor="middle">0.0</text>
<line x1="446.5" y1="469.2" x2="446.5" y2="478.1" stroke="#333333" stroke-width="1.1"/>
<text x="446.5" y="490.4" class="tk" text-anchor="middle">0.2</text>
<line x1="503.9" y1="469.2" x2="503.9" y2="478.1" stroke="#333333" stroke-width="1.1"/>
<text x="503.9" y="490.4" class="tk" text-anchor="middle">0.4</text>
<line x1="561.3" y1="469.2" x2="561.3" y2="478.1" stroke="#333333" stroke-width="1.1"/>
<text x="561.3" y="490.4" class="tk" text-anchor="middle">0.6</text>
<line x1="618.7" y1="469.2" x2="618.7" y2="478.1" stroke="#333333" stroke-width="1.1"/>
<text x="618.7" y="490.4" class="tk" text-anchor="middle">0.8</text>
<line x1="676.1" y1="469.2" x2="676.1" y2="478.1" stroke="#333333" stroke-width="1.1"/>
<text x="676.1" y="490.4" class="tk" text-anchor="middle">1.0</text>
<line x1="371.8" y1="462.3" x2="380.7" y2="462.3" stroke="#333333" stroke-width="1.1"/>
<text transform="translate(368.5,468.2) rotate(-90)" class="tk" text-anchor="middle">−0.05</text>
<line x1="371.8" y1="423.4" x2="380.7" y2="423.4" stroke="#333333" stroke-width="1.1"/>
<text transform="translate(368.5,412.2) rotate(-90)" class="tk" text-anchor="middle">0.00</text>
<line x1="371.8" y1="384.5" x2="380.7" y2="384.5" stroke="#333333" stroke-width="1.1"/>
<text transform="translate(368.5,388.9) rotate(-90)" class="tk" text-anchor="middle">0.05</text>
<line x1="371.8" y1="345.6" x2="380.7" y2="345.6" stroke="#333333" stroke-width="1.1"/>
<text transform="translate(368.5,349.8) rotate(-90)" class="tk" text-anchor="middle">0.10</text>
<line x1="371.8" y1="306.7" x2="380.7" y2="306.7" stroke="#333333" stroke-width="1.1"/>
<text transform="translate(368.5,304.4) rotate(-90)" class="tk" text-anchor="middle">0.15</text>
<text x="534.7" y="273.1" class="lb" text-anchor="middle">Centre D</text>
<text x="531.7" y="501.8" class="lb" text-anchor="middle">Threshold probability</text>
<text transform="translate(353.8,364.6) rotate(-90)" class="lb" text-anchor="middle">Net benefit</text>
<line x1="601.6" y1="278.5" x2="620.8" y2="278.5" stroke="#1d1a1b" stroke-width="2.6" stroke-linecap="round"/>
<text x="626.0" y="281" class="lg">None</text>
<line x1="601.6" y1="293.1" x2="620.8" y2="293.1" stroke="#bec4cb" stroke-width="2.6" stroke-linecap="round"/>
<text x="627.0" y="295.6" class="lg">All</text>
<line x1="600.3" y1="306.2" x2="622.1" y2="306.2" stroke="#e8312f" stroke-width="1.3" stroke-linecap="butt"/>
<text x="627.0" y="308.7" class="lg">FedAvg</text>
<line x1="600.3" y1="319.6" x2="622.1" y2="319.6" stroke="#24a85b" stroke-width="1.3" stroke-linecap="butt"/>
<text x="627.0" y="322.1" class="lg">FedProx</text>
<line x1="600.3" y1="332.9" x2="622.1" y2="332.9" stroke="#3a42a2" stroke-width="1.3" stroke-linecap="butt"/>
<text x="627.0" y="335.4" class="lg">Moon</text>
<line x1="600.3" y1="346.3" x2="622.1" y2="346.3" stroke="#1db6ee" stroke-width="1.3" stroke-linecap="butt"/>
<text x="627.0" y="348.8" class="lg">HarmoFL</text>
<line x1="600.3" y1="359.6" x2="622.1" y2="359.6" stroke="#e92a90" stroke-width="1.3" stroke-linecap="butt"/>
<text x="627.0" y="362.1" class="lg">pFedFSL</text>
<line x1="600.3" y1="373.2" x2="622.1" y2="373.2" stroke="#f5e81f" stroke-width="1.3" stroke-linecap="butt"/>
<text x="627.0" y="375.7" class="lg">pFedMe</text>
<line x1="600.3" y1="386.8" x2="622.1" y2="386.8" stroke="#c2c7cc" stroke-width="1.3" stroke-linecap="butt"/>
<text x="627.0" y="389.3" class="lg">RFLM</text>
</svg></body></html>
